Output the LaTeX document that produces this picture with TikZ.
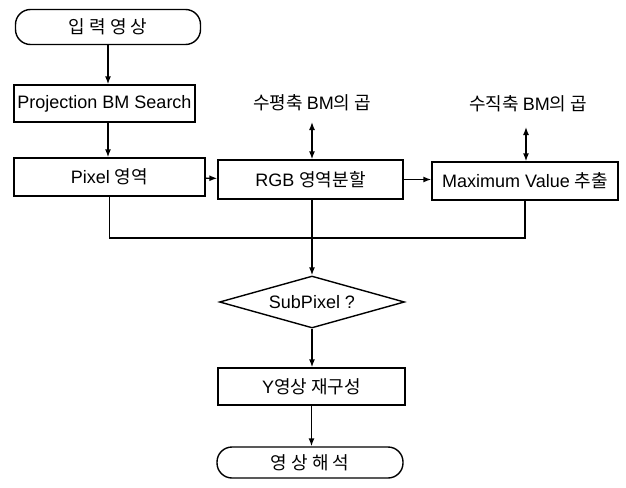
\documentclass[tikz,border=0pt]{standalone}
\usepackage{fontspec}
\setmainfont{Liberation Sans}
\newfontfamily\kr{Noto Sans CJK KR}
\usetikzlibrary{shapes.geometric,arrows.meta}
\begin{document}
\begin{tikzpicture}[x=1pt,y=-1pt,
  line width=1.4pt,
  txt/.style={font=\fontsize{18}{20}\selectfont},
  box/.style={draw, rectangle, inner sep=0pt, txt},
  term/.style={draw, rectangle, rounded corners=15pt, inner sep=0pt, txt},
  lab/.style={inner sep=0pt, txt},
  arr/.style={-{Latex[length=8pt,width=6pt]}},
  darr/.style={{Latex[length=8pt,width=6pt]}-{Latex[length=8pt,width=6pt]}}
]
\useasboundingbox (0,0) rectangle (626,487);
\node[term, minimum width=185pt, minimum height=35pt] (start) at (108,27) {\kr 입 력 영 상};
\node[box, minimum width=181pt, minimum height=37pt] (proj) at (104.5,103.5) {Projection BM Search};
\node[box, minimum width=191pt, minimum height=38pt] (pixel) at (109.5,177) {Pixel {\kr 영역}};
\node[box, minimum width=185pt, minimum height=39pt] (rgb) at (310.5,179.5) {RGB {\kr 영역분할}};
\node[box, minimum width=186pt, minimum height=38pt] (max) at (525,181) {Maximum Value {\kr 추출}};
\node[lab] (l1) at (312,103) {\kr 수평축 \rmfamily BM\kr 의 곱};
\node[lab] (l2) at (528,104) {\kr 수직축 \rmfamily BM\kr 의 곱};
\coordinate (a1) at (312,122);
\coordinate (a2) at (526,127);
\node[draw, diamond, aspect=3.5, inner sep=0pt, minimum width=185pt, minimum height=52pt, txt] (dia) at (312,302) {SubPixel ?};
\node[box, minimum width=187pt, minimum height=37pt] (yrec) at (311.5,386.5) {Y{\kr 영상 재구성}};
\node[term, minimum width=186pt, minimum height=31pt] (end) at (310,462.5) {\kr 영 상 해 석};
\coordinate (j) at (312,238);

\draw[arr] (start.south) -- (start.south |- proj.north);
\draw[arr] (proj.south -| start.south) -- (start.south |- pixel.north);
\draw[arr] (pixel) -- (rgb);
\draw[arr] (rgb) -- (rgb -| max.west);
\draw[darr] (a1) -- (a1 |- rgb.north);
\draw[darr] (a2) -- (a2 |- max.north);
\draw (pixel.south) |- (j) -| (max.south);
\draw[arr] (rgb.south -| dia.north) -- (dia.north);
\draw[arr] (dia.south) -- (yrec.north -| dia.south);
\draw[arr] (yrec.south) -- (end.north -| yrec.south);
\end{tikzpicture}
\end{document}
